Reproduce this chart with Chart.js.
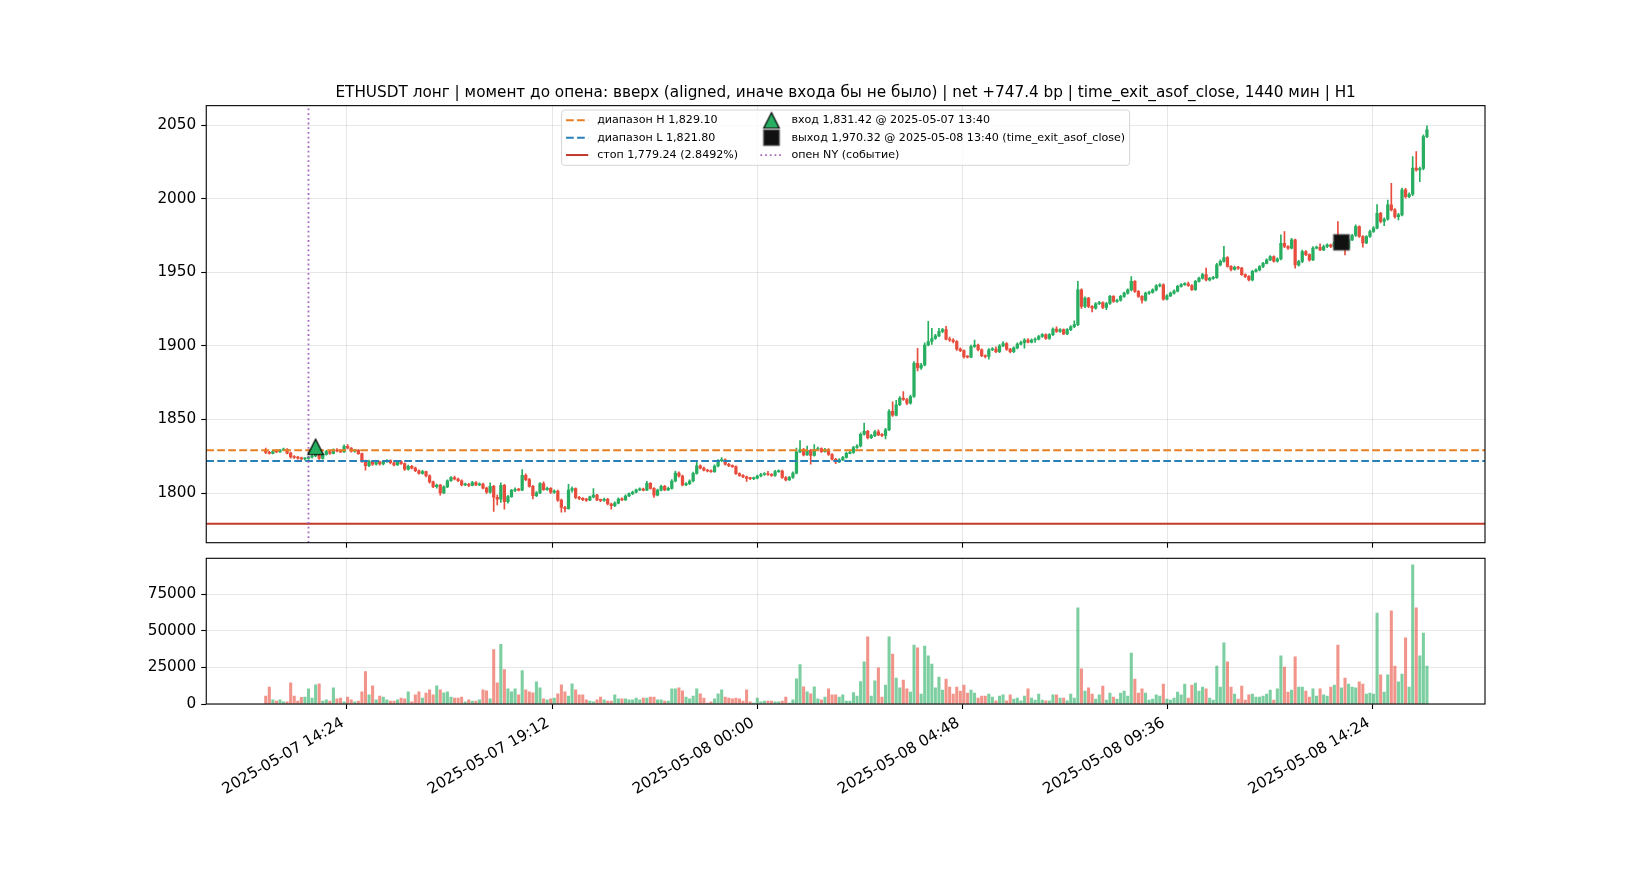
<!DOCTYPE html>
<html>
<head>
<meta charset="utf-8">
<script src="https://cdn.jsdelivr.net/npm/chart.js@4.4.1/dist/chart.umd.min.js"></script>
<style>
html, body { margin: 0; padding: 0; background: #fff; }
#wrap { position: relative; width: 1650px; height: 880px; }
#price_box { position: absolute; left: 0; top: 0; width: 1650px; height: 560px; }
#vol_box { position: absolute; left: 0; top: 530px; width: 1650px; height: 350px; }
</style>
</head>
<body>
<div id="wrap">
	<div id="price_box"><canvas id="price_chart"></canvas></div>
	<div id="vol_box"><canvas id="vol_chart"></canvas></div>
</div>
<script>
// 5 minute bars, time in minutes from 2025-05-07 00:00
var bar_start = 750; // 2025-05-07 12:30
var bar_step = 5;

var bar_open = [1829.0,1827.6,1827.0,1828.6,1828.0,1829.2,1829.8,1827.2,1824.6,1824.2,
1823.8,1823.2,1823.6,1824.4,1825.2,1826.8,1823.6,1826.2,1828.2,1827.0,
1829.4,1828.6,1828.0,1831.8,1830.6,1828.4,1829.2,1826.8,1821.6,1818.6,
1821.6,1819.6,1821.2,1819.8,1821.4,1822.0,1820.6,1819.2,1821.4,1820.0,
1816.2,1818.2,1817.0,1815.2,1813.4,1814.6,1811.8,1807.6,1804.4,1805.4,
1800.2,1804.2,1808.4,1810.6,1809.6,1808.4,1805.6,1806.0,1805.2,1807.2,
1805.6,1806.2,1803.4,1800.6,1804.6,1797.2,1795.8,1805.2,1794.2,1797.6,
1801.8,1802.6,1802.0,1812.0,1809.2,1804.6,1798.2,1800.2,1806.4,1802.4,
1803.2,1800.6,1801.4,1795.2,1790.2,1789.4,1802.0,1803.0,1797.0,1796.4,
1795.6,1795.2,1797.4,1798.6,1795.4,1795.0,1795.8,1792.6,1791.4,1793.2,
1796.0,1795.4,1798.0,1799.6,1800.6,1802.2,1802.8,1802.0,1806.6,1803.2,
1798.6,1802.0,1804.6,1802.2,1803.2,1808.2,1813.6,1811.6,1805.6,1806.4,
1808.2,1813.4,1818.6,1817.0,1815.6,1815.0,1814.6,1818.4,1822.0,1822.6,
1819.6,1818.6,1818.0,1813.2,1812.0,1811.0,1810.0,1809.8,1810.2,1811.6,
1812.6,1813.2,1812.6,1812.0,1814.6,1815.0,1810.6,1809.0,1810.6,1813.6,
1828.0,1829.6,1826.0,1829.0,1825.6,1829.6,1830.2,1828.2,1829.6,1826.2,
1823.0,1821.2,1822.6,1824.2,1827.0,1827.6,1831.0,1832.0,1840.0,1842.0,
1837.6,1839.0,1841.6,1839.6,1839.2,1843.0,1855.6,1853.0,1860.0,1864.6,
1863.6,1861.0,1865.6,1888.2,1885.0,1887.0,1900.6,1903.0,1905.0,1906.8,
1909.8,1911.0,1904.6,1904.0,1903.0,1897.8,1896.8,1892.6,1892.4,1899.6,
1900.6,1897.4,1893.4,1892.8,1897.4,1897.8,1896.0,1900.0,1901.6,1897.8,
1896.0,1898.6,1901.2,1902.2,1904.0,1902.6,1904.0,1904.6,1906.4,1907.6,
1905.0,1907.6,1911.4,1909.8,1911.0,1908.2,1911.0,1913.0,1914.4,1938.0,
1926.8,1932.4,1926.8,1925.6,1928.6,1929.4,1926.2,1928.8,1933.6,1930.2,
1931.0,1933.6,1935.8,1938.0,1943.8,1937.0,1933.6,1931.0,1935.8,1936.4,
1938.0,1940.8,1941.5,1931.8,1934.0,1935.8,1937.2,1940.4,1941.6,1942.2,
1941.0,1938.2,1943.8,1946.0,1948.4,1944.8,1945.9,1946.4,1955.0,1957.4,
1960.0,1954.0,1952.0,1953.4,1952.8,1948.4,1947.2,1944.8,1950.6,1951.6,
1953.9,1956.1,1958.4,1960.7,1957.5,1959.0,1969.7,1967.5,1966.4,1972.0,
1955.0,1957.3,1964.1,1962.0,1958.4,1966.4,1967.0,1965.2,1967.5,1968.6,
1967.5,1970.0,1968.0,1970.3,1966.5,1972.0,1975.0,1981.0,1974.3,1970.0,
1974.3,1977.7,1980.0,1990.1,1984.5,1986.0,1995.8,1992.4,1987.8,1989.0,
2006.0,2001.4,2003.0,2020.7,2019.6,2020.5,2042.2];

var bar_high = [1830.6,1828.4,1829.2,1829.4,1829.8,1830.6,1830.2,1827.8,1825.4,1825.0,
1824.4,1824.2,1825.0,1826.0,1827.6,1829.0,1826.8,1829.0,1828.8,1830.0,
1830.2,1829.6,1832.8,1833.0,1831.0,1829.8,1829.6,1827.2,1822.4,1822.4,
1822.2,1822.0,1821.8,1822.2,1822.8,1822.6,1821.2,1822.2,1822.0,1820.6,
1819.0,1818.8,1817.6,1815.8,1815.4,1815.0,1812.4,1808.2,1806.2,1806.0,
1805.0,1809.0,1811.2,1811.6,1810.2,1809.0,1806.8,1806.6,1808.0,1807.8,
1807.0,1806.8,1804.0,1807.0,1805.2,1798.6,1807.0,1806.0,1798.4,1802.6,
1803.6,1803.2,1816.0,1813.0,1810.0,1805.2,1801.0,1807.2,1807.6,1804.0,
1803.8,1802.2,1802.0,1796.0,1791.0,1806.0,1804.2,1803.6,1797.8,1797.0,
1796.4,1798.0,1803.0,1799.2,1796.0,1796.6,1796.4,1793.2,1794.0,1796.8,
1796.8,1798.8,1800.2,1801.4,1802.8,1803.6,1803.4,1808.0,1807.2,1803.8,
1802.8,1805.4,1805.2,1804.0,1809.2,1815.0,1814.4,1812.2,1807.2,1809.0,
1814.2,1821.0,1819.2,1817.6,1816.2,1815.8,1819.2,1822.8,1824.2,1823.2,
1820.2,1819.2,1818.6,1813.8,1812.6,1811.6,1810.6,1810.8,1812.2,1813.4,
1814.0,1814.8,1813.2,1815.4,1815.8,1815.6,1811.2,1811.4,1814.4,1830.6,
1835.6,1830.4,1832.0,1829.8,1833.0,1831.2,1830.8,1830.4,1830.2,1826.8,
1823.6,1823.4,1825.0,1827.8,1828.4,1831.8,1833.0,1841.0,1847.6,1842.6,
1840.0,1842.6,1843.0,1840.4,1844.0,1856.8,1862.0,1863.0,1865.6,1869.0,
1864.4,1866.6,1889.4,1898.4,1888.2,1902.0,1916.6,1912.0,1907.8,1912.0,
1912.0,1913.2,1906.0,1905.0,1903.6,1898.6,1897.4,1893.4,1900.6,1904.0,
1901.2,1898.0,1894.0,1898.2,1898.8,1899.4,1900.8,1903.0,1902.2,1898.4,
1899.4,1902.0,1903.2,1905.0,1905.0,1904.8,1905.4,1907.2,1908.4,1908.2,
1908.4,1912.2,1913.0,1911.8,1911.6,1911.8,1913.8,1917.0,1943.8,1938.8,
1933.4,1933.0,1927.4,1929.4,1930.2,1930.0,1929.6,1934.4,1934.2,1931.8,
1934.4,1936.6,1938.8,1947.0,1944.4,1937.6,1934.2,1936.6,1937.2,1938.8,
1941.6,1942.4,1942.2,1934.8,1936.6,1938.0,1941.2,1942.4,1943.0,1943.4,
1941.6,1944.6,1946.8,1949.2,1952.8,1946.6,1947.2,1956.0,1958.4,1967.6,
1960.6,1954.6,1954.2,1954.0,1953.4,1949.0,1947.8,1951.4,1952.4,1954.6,
1956.8,1959.2,1961.4,1961.2,1959.8,1975.4,1977.7,1968.2,1973.0,1972.6,
1958.2,1965.0,1964.8,1962.6,1967.4,1967.8,1969.4,1968.4,1969.4,1969.2,
1970.8,1984.5,1971.0,1970.8,1972.8,1975.8,1982.2,1981.6,1975.0,1975.0,
1978.6,1981.0,1996.0,1990.8,1987.0,1999.0,2010.5,1993.2,1990.0,2007.2,
2007.0,2004.0,2028.6,2032.0,2021.4,2043.4,2049.4];

var bar_low = [1826.8,1826.4,1826.6,1827.4,1827.6,1828.8,1826.6,1823.8,1823.6,1823.0,
1822.6,1822.4,1822.8,1823.8,1824.6,1822.8,1823.0,1825.8,1826.2,1826.6,
1828.0,1827.4,1827.6,1830.0,1827.8,1827.8,1826.2,1820.8,1815.6,1818.0,
1818.8,1819.0,1819.0,1819.2,1820.8,1819.8,1818.4,1818.8,1819.4,1815.4,
1815.6,1816.4,1814.6,1812.8,1812.8,1811.0,1806.8,1803.6,1803.4,1798.6,
1799.6,1803.6,1808.0,1809.0,1807.8,1804.8,1805.0,1804.4,1804.8,1805.0,
1805.0,1802.8,1799.8,1800.0,1787.6,1792.0,1793.6,1789.0,1793.2,1797.0,
1801.0,1801.4,1801.6,1808.4,1804.0,1796.0,1797.6,1799.6,1801.8,1801.8,
1799.8,1799.8,1794.4,1787.0,1787.2,1789.0,1800.6,1796.2,1795.6,1794.8,
1794.4,1794.8,1796.8,1794.8,1794.2,1794.4,1792.0,1789.0,1790.8,1792.6,
1794.8,1795.0,1797.6,1799.0,1800.2,1801.6,1801.4,1801.6,1802.6,1797.0,
1798.0,1801.4,1801.6,1801.6,1802.6,1807.6,1810.8,1804.8,1805.0,1805.8,
1807.6,1812.8,1816.4,1815.0,1814.4,1814.0,1814.0,1817.8,1821.4,1819.0,
1818.0,1817.4,1812.6,1811.4,1810.4,1808.0,1809.2,1809.2,1809.6,1811.0,
1812.0,1812.0,1811.4,1811.4,1814.0,1810.0,1808.2,1808.6,1810.0,1813.0,
1827.4,1825.2,1825.6,1819.6,1825.0,1829.0,1827.6,1827.8,1825.6,1822.4,
1820.0,1820.6,1822.0,1823.8,1826.6,1827.0,1830.4,1831.4,1839.4,1836.8,
1837.0,1838.4,1839.0,1838.4,1836.8,1842.4,1852.0,1852.4,1859.4,1863.0,
1860.0,1860.4,1865.0,1883.0,1884.0,1886.4,1900.0,1901.0,1904.4,1906.2,
1909.0,1904.0,1903.0,1902.0,1897.0,1896.0,1891.6,1891.8,1892.0,1899.0,
1896.6,1892.6,1891.8,1891.0,1896.8,1895.4,1895.4,1899.4,1897.0,1895.2,
1895.4,1898.0,1900.6,1898.4,1902.0,1902.0,1902.4,1904.0,1905.8,1904.4,
1904.4,1907.0,1909.2,1909.2,1907.6,1907.6,1910.4,1912.4,1913.8,1925.4,
1926.0,1926.0,1923.0,1925.0,1928.0,1925.2,1924.6,1928.2,1929.6,1929.6,
1930.4,1933.0,1935.2,1937.4,1936.4,1933.0,1929.0,1930.4,1935.0,1935.8,
1937.4,1940.0,1931.0,1931.2,1933.4,1935.2,1936.6,1939.8,1941.0,1940.4,
1937.6,1937.6,1943.2,1945.4,1944.2,1944.2,1945.2,1945.8,1954.4,1956.8,
1953.4,1951.0,1951.4,1952.0,1947.8,1946.4,1944.2,1944.2,1950.0,1951.0,
1953.2,1955.6,1957.8,1956.8,1956.8,1958.4,1966.8,1965.6,1965.8,1952.8,
1954.2,1956.6,1961.2,1957.6,1957.8,1965.8,1964.6,1964.6,1966.8,1966.8,
1966.8,1967.4,1967.2,1961.8,1965.8,1971.4,1974.4,1973.6,1967.0,1969.4,
1973.6,1977.0,1979.4,1983.6,1981.6,1985.4,1991.6,1986.8,1985.6,1988.2,
2000.4,2000.6,2002.0,2018.6,2011.6,2019.6,2041.4];

var bar_close = [1827.6,1827.0,1828.6,1828.0,1829.2,1829.8,1827.2,1824.6,1824.2,1823.8,
1823.2,1823.6,1824.4,1825.2,1826.8,1823.6,1826.2,1828.2,1827.0,1829.4,
1828.6,1828.0,1831.8,1830.6,1828.4,1829.2,1826.8,1821.6,1818.6,1821.6,
1819.6,1821.2,1819.8,1821.4,1822.0,1820.6,1819.2,1821.4,1820.0,1816.2,
1818.2,1817.0,1815.2,1813.4,1814.6,1811.8,1807.6,1804.4,1805.4,1800.2,
1804.2,1808.4,1810.6,1809.6,1808.4,1805.6,1806.0,1805.2,1807.2,1805.6,
1806.2,1803.4,1800.6,1804.6,1797.2,1795.8,1805.2,1794.2,1797.6,1801.8,
1802.6,1802.0,1812.0,1809.2,1804.6,1798.2,1800.2,1806.4,1802.4,1803.2,
1800.6,1801.4,1795.2,1790.2,1789.4,1802.0,1803.0,1797.0,1796.4,1795.6,
1795.2,1797.4,1798.6,1795.4,1795.0,1795.8,1792.6,1791.4,1793.2,1796.0,
1795.4,1798.0,1799.6,1800.6,1802.2,1802.8,1802.0,1806.6,1803.2,1798.6,
1802.0,1804.6,1802.2,1803.2,1808.2,1813.6,1811.6,1805.6,1806.4,1808.2,
1813.4,1818.6,1817.0,1815.6,1815.0,1814.6,1818.4,1822.0,1822.6,1819.6,
1818.6,1818.0,1813.2,1812.0,1811.0,1810.0,1809.8,1810.2,1811.6,1812.6,
1813.2,1812.6,1812.0,1814.6,1815.0,1810.6,1809.0,1810.6,1813.6,1828.0,
1829.6,1826.0,1829.0,1825.6,1829.6,1830.2,1828.2,1829.6,1826.2,1823.0,
1821.2,1822.6,1824.2,1827.0,1827.6,1831.0,1832.0,1840.0,1842.0,1837.6,
1839.0,1841.6,1839.6,1839.2,1843.0,1855.6,1853.0,1860.0,1864.6,1863.6,
1861.0,1865.6,1888.2,1885.0,1887.0,1900.6,1903.0,1905.0,1906.8,1909.8,
1911.0,1904.6,1904.0,1903.0,1897.8,1896.8,1892.6,1892.4,1899.6,1900.6,
1897.4,1893.4,1892.8,1897.4,1897.8,1896.0,1900.0,1901.6,1897.8,1896.0,
1898.6,1901.2,1902.2,1904.0,1902.6,1904.0,1904.6,1906.4,1907.6,1905.0,
1907.6,1911.4,1909.8,1911.0,1908.2,1911.0,1913.0,1914.4,1938.0,1926.8,
1932.4,1926.8,1925.6,1928.6,1929.4,1926.2,1928.8,1933.6,1930.2,1931.0,
1933.6,1935.8,1938.0,1943.8,1937.0,1933.6,1931.0,1935.8,1936.4,1938.0,
1940.8,1941.5,1931.8,1934.0,1935.8,1937.2,1940.4,1941.6,1942.2,1941.0,
1938.2,1943.8,1946.0,1948.4,1944.8,1945.9,1946.4,1955.0,1957.4,1960.0,
1954.0,1952.0,1953.4,1952.8,1948.4,1947.2,1944.8,1950.6,1951.6,1953.9,
1956.1,1958.4,1960.7,1957.5,1959.0,1969.7,1967.5,1966.4,1972.0,1955.0,
1957.3,1964.1,1962.0,1958.4,1966.4,1967.0,1965.2,1967.5,1968.6,1967.5,
1970.0,1968.0,1970.3,1966.5,1972.0,1975.0,1981.0,1974.3,1970.0,1974.3,
1977.7,1980.0,1990.1,1984.5,1986.0,1995.8,1992.4,1987.8,1989.0,2006.0,
2001.4,2003.0,2020.7,2019.6,2020.5,2042.2,2046.7];

var bar_volume = [5500,11500,2800,2000,2800,1400,1400,14500,5500,2000,
4600,4800,10400,4100,13100,13800,2000,2800,2000,11000,
3500,4100,1400,4800,2800,1400,2000,8300,22100,6200,
12400,2800,5500,4800,2800,2000,2000,2800,4100,3500,
8300,1400,6200,8300,4100,7400,9700,6200,12400,9700,
7600,8300,4800,4100,4100,4800,1400,2800,2000,2000,
2800,9700,9000,3500,37300,14500,40800,23500,10400,8300,
10400,6200,22800,9700,8300,7600,15200,11000,3500,2800,
3500,4100,6900,13100,8300,5500,13800,9700,6200,6200,
2800,2000,1400,2800,4800,2800,2000,2000,6200,3500,
3500,3500,2800,2800,4100,2800,4100,4100,4800,4800,
2800,2800,2000,2000,10400,10400,11000,9000,4800,3500,
5500,10400,6900,4100,700,1400,3500,6900,9700,4800,
4100,3500,4100,3500,2000,9700,1400,700,4100,1400,
2000,2000,2000,1400,1400,2000,4800,700,2800,17300,
27000,11800,8300,6900,11800,3500,2800,4800,10400,6200,
6200,4800,6200,2000,2000,7800,5500,15300,28800,45900,
5500,15800,24700,4800,13000,45900,34200,17800,11000,16400,
10300,8200,40400,38400,6800,39700,32900,27400,11000,18500,
9600,17100,11600,6800,11600,8900,13000,7500,9600,7500,
4100,5500,5500,6800,4800,2100,5500,6200,2100,6200,
3400,4100,2100,5500,10300,4100,2700,6800,2700,2100,
2100,6200,6200,4100,4100,2100,6800,4100,65800,24000,
8900,11000,6800,3400,6200,12300,2700,7500,4800,3400,
7500,8900,5500,34900,17100,7500,10300,7500,2700,3400,
6200,5500,13700,3400,2700,4100,8200,6200,13700,4100,
13000,14400,8900,11600,10300,4100,2700,26000,11600,41800,
28800,11600,6800,3400,12300,2700,6200,6800,4800,4800,
5500,6800,9600,2700,10300,32900,25300,8200,9600,32200,
11600,11600,8900,4800,10300,5500,10300,6200,5500,11600,
13000,40400,11000,17800,13700,11600,11000,15100,13700,6800,
7500,6800,62300,19900,8200,19900,63700,26000,15100,20500,
45200,11600,95200,65800,32900,48600,26000];

// levels and events
var range_high = 1829.10;
var range_low = 1821.80;
var stop_level = 1779.24;
var ny_open_time = 810;               // 2025-05-07 13:30
var entry_time = 820, entry_price = 1831.42;   // 2025-05-07 13:40
var exit_time = 2260, exit_price = 1970.32;    // 2025-05-08 13:40

var x_tick_values = [864, 1152, 1440, 1728, 2016, 2304];
var x_tick_labels = ['2025-05-07 14:24', '2025-05-07 19:12', '2025-05-08 00:00', '2025-05-08 04:48', '2025-05-08 09:36', '2025-05-08 14:24'];
var price_ticks = [1800, 1850, 1900, 1950, 2000, 2050];
var volume_ticks = [0, 25000, 50000, 75000];

var title_text = 'ETHUSDT лонг | момент до опена: вверх (aligned, иначе входа бы не было) | net +747.4 bp | time_exit_asof_close, 1440 мин | H1';
var legend_labels = ['диапазон H 1,829.10', 'диапазон L 1,821.80', 'стоп 1,779.24 (2.8492%)',
	'вход 1,831.42 @ 2025-05-07 13:40', 'выход 1,970.32 @ 2025-05-08 13:40 (time_exit_asof_close)', 'опен NY (событие)'];

// axis limits
var x_min = 666.5, x_max = 2461.5;
var price_min = 1766.3, price_max = 2063.2;
var volume_max = 99700;

var up_colour = '#27ae60', down_colour = '#e74c3c';
var up_vol_colour = 'rgba(39, 174, 96, 0.6)', down_vol_colour = 'rgba(231, 76, 60, 0.6)';
var high_colour = '#e67e22', low_colour = '#2980b9', stop_colour = '#c0392b', ny_colour = 'rgba(155, 89, 182, 0.9)';
var grid_colour = 'rgba(176, 176, 176, 0.3)';
var font_family = "'DejaVu Sans', sans-serif";
var label_size = 15.28;

Chart.defaults.font.family = font_family;
Chart.defaults.font.size = label_size;
Chart.defaults.color = '#000';

var bar_time = bar_close.map(function (c, i) { return bar_start + i * bar_step; });
var is_up = bar_close.map(function (c, i) { return c >= bar_open[i]; });

function makeMarker(kind)
{
	var c = document.createElement('canvas');
	c.width = 20; c.height = 20;
	var g = c.getContext('2d');
	g.beginPath();
	if (kind == 'triangle')
	{
		g.moveTo(10, 2.25); g.lineTo(17.75, 17.75); g.lineTo(2.25, 17.75); g.closePath();
		g.fillStyle = up_colour; g.strokeStyle = '#000';
	}
	else
	{
		g.rect(2.25, 2.25, 15.5, 15.5);
		g.fillStyle = '#111'; g.strokeStyle = '#3a3a3a';
	}
	g.fill();
	g.lineWidth = 1.2;
	g.stroke();
	return c;
}
var entry_marker = makeMarker('triangle');
var exit_marker = makeMarker('square');

// black box round the plot, like matplotlib spines
var frame_plugin = {
	id: 'frame',
	afterDraw: function (chart)
	{
		var a = chart.chartArea, ctx = chart.ctx;
		ctx.save();
		ctx.strokeStyle = '#000';
		ctx.lineWidth = 1.1;
		ctx.strokeRect(a.left, a.top, a.right - a.left, a.bottom - a.top);
		ctx.restore();
	}
};

// two-column legend box inside the price plot
var legend_plugin = {
	id: 'box_legend',
	afterDraw: function (chart)
	{
		var ctx = chart.ctx, a = chart.chartArea;
		var fs = 11.1;
		ctx.save();
		ctx.font = fs + 'px ' + font_family;
		var w1 = 0, w2 = 0;
		legend_labels.forEach(function (t, i)
		{
			var w = ctx.measureText(t).width;
			if (i < 3) w1 = Math.max(w1, w); else w2 = Math.max(w2, w);
		});
		var pad = 0.4 * fs, hl = 2 * fs, tp = 0.8 * fs, cs = 2 * fs;
		var boxW = 2 * pad + hl + tp + w1 + cs + hl + tp + w2;
		var boxH = 55.3;
		var bx = (a.left + a.right) / 2 - boxW / 2;
		var by = a.top + 4.4;

		// frame
		var r = 3;
		ctx.beginPath();
		ctx.moveTo(bx + r, by);
		ctx.lineTo(bx + boxW - r, by); ctx.arcTo(bx + boxW, by, bx + boxW, by + r, r);
		ctx.lineTo(bx + boxW, by + boxH - r); ctx.arcTo(bx + boxW, by + boxH, bx + boxW - r, by + boxH, r);
		ctx.lineTo(bx + r, by + boxH); ctx.arcTo(bx, by + boxH, bx, by + boxH - r, r);
		ctx.lineTo(bx, by + r); ctx.arcTo(bx, by, bx + r, by, r);
		ctx.closePath();
		ctx.fillStyle = 'rgba(255, 255, 255, 0.8)';
		ctx.fill();
		ctx.strokeStyle = 'rgba(204, 204, 204, 0.8)';
		ctx.lineWidth = 1;
		ctx.stroke();

		var rows = [by + 10.3, by + 27.65, by + 45.0];
		var c1 = bx + pad;
		var c2 = c1 + hl + tp + w1 + cs;

		function handleLine(x0, y, colour, dash, width)
		{
			ctx.beginPath();
			ctx.setLineDash(dash);
			ctx.strokeStyle = colour;
			ctx.lineWidth = width;
			ctx.moveTo(x0, y); ctx.lineTo(x0 + hl, y);
			ctx.stroke();
			ctx.setLineDash([]);
		}
		handleLine(c1, rows[0], high_colour, [7.7, 3.3], 2);
		handleLine(c1, rows[1], low_colour, [7.7, 3.3], 2);
		handleLine(c1, rows[2], stop_colour, [], 2);
		ctx.drawImage(entry_marker, c2 + hl / 2 - 10, rows[0] - 10);
		ctx.drawImage(exit_marker, c2 + hl / 2 - 10, rows[1] - 10);
		handleLine(c2, rows[2], ny_colour, [1.8, 2.9], 1.8);

		ctx.fillStyle = '#000';
		ctx.textBaseline = 'middle';
		ctx.textAlign = 'left';
		for (var k = 0; k < 3; k++)
		{
			ctx.fillText(legend_labels[k], c1 + hl + tp, rows[k]);
			ctx.fillText(legend_labels[k + 3], c2 + hl + tp, rows[k]);
		}
		ctx.restore();
	}
};

function levelLine(level, colour, dash, order)
{
	return {
		type: 'line',
		data: [{x: x_min, y: level}, {x: x_max, y: level}],
		borderColor: colour,
		borderWidth: 2,
		borderDash: dash,
		pointRadius: 0,
		order: order
	};
}

var priceChart = new Chart(document.getElementById('price_chart').getContext('2d'), {
	type: 'bar',
	plugins: [frame_plugin, legend_plugin],
	data: {
		datasets: [
			{
				label: 'wicks',
				data: bar_time.map(function (t, i) { return {x: t, y: [bar_low[i], bar_high[i]]}; }),
				backgroundColor: is_up.map(function (u) { return u ? up_colour : down_colour; }),
				barThickness: 1,
				grouped: false,
				order: 6
			},
			{
				label: 'bodies',
				data: bar_time.map(function (t, i) { return {x: t, y: [bar_open[i], bar_close[i]]}; }),
				backgroundColor: is_up.map(function (u) { return u ? up_colour : down_colour; }),
				barThickness: 2.6,
				minBarLength: 1,
				grouped: false,
				order: 5
			},
			levelLine(range_high, high_colour, [7.7, 3.3], 4),
			levelLine(range_low, low_colour, [7.7, 3.3], 4),
			levelLine(stop_level, stop_colour, [], 4),
			{
				type: 'line',
				data: [{x: ny_open_time, y: price_min}, {x: ny_open_time, y: price_max}],
				borderColor: ny_colour,
				borderWidth: 1.8,
				borderDash: [1.8, 2.9],
				pointRadius: 0,
				order: 3
			},
			{
				type: 'line',
				showLine: false,
				data: [{x: entry_time, y: entry_price}],
				pointStyle: entry_marker,
				pointRadius: 8,
				order: 1
			},
			{
				type: 'line',
				showLine: false,
				data: [{x: exit_time, y: exit_price}],
				pointStyle: exit_marker,
				pointRadius: 8,
				order: 1
			}
		]
	},
	options: {
		responsive: true,
		maintainAspectRatio: false,
		animation: false,
		events: [],
		layout: { padding: { left: 146.25, right: 165, top: 0, bottom: 12.3 } },
		plugins: {
			legend: { display: false },
			tooltip: { enabled: false },
			title: {
				display: true,
				text: title_text,
				color: '#000',
				fullSize: false,
				font: { family: font_family, size: label_size, weight: 'normal' },
				padding: { top: 83.5, bottom: 3.8 }
			}
		},
		scales: {
			x: {
				type: 'linear',
				min: x_min, max: x_max,
				offset: false,
				grid: { offset: false, color: grid_colour, tickColor: '#000', tickLength: 5, tickWidth: 1.1 },
				border: { display: false },
				ticks: { display: false },
				afterBuildTicks: function (axis) { axis.ticks = x_tick_values.map(function (v) { return {value: v}; }); },
				afterFit: function (axis) { axis.height = 5; }
			},
			y: {
				min: price_min, max: price_max,
				grid: { color: grid_colour, tickColor: '#000', tickLength: 5, tickWidth: 1.1 },
				border: { display: false },
				ticks: { padding: 5, callback: function (v) { return String(v); } },
				afterBuildTicks: function (axis) { axis.ticks = price_ticks.map(function (v) { return {value: v}; }); },
				afterFit: function (axis) { axis.width = 60; }
			}
		}
	}
});

var volChart = new Chart(document.getElementById('vol_chart').getContext('2d'), {
	type: 'bar',
	plugins: [frame_plugin],
	data: {
		datasets: [{
			label: 'volume',
			data: bar_time.map(function (t, i) { return {x: t, y: bar_volume[i]}; }),
			backgroundColor: is_up.map(function (u) { return u ? up_vol_colour : down_vol_colour; }),
			barThickness: 2.4,
			grouped: false
		}]
	},
	options: {
		responsive: true,
		maintainAspectRatio: false,
		animation: false,
		events: [],
		layout: { padding: { left: 146.25, right: 165, top: 28.3, bottom: 0 } },
		plugins: {
			legend: { display: false },
			tooltip: { enabled: false }
		},
		scales: {
			x: {
				type: 'linear',
				min: x_min, max: x_max,
				offset: false,
				grid: { offset: false, color: grid_colour, tickColor: '#000', tickLength: 5, tickWidth: 1.1 },
				border: { display: false },
				ticks: {
					autoSkip: false,
					minRotation: 30, maxRotation: 30,
					padding: 5,
					labelOffset: -4,
					callback: function (v, index) { return x_tick_labels[index]; }
				},
				afterBuildTicks: function (axis) { axis.ticks = x_tick_values.map(function (v) { return {value: v}; }); },
				afterFit: function (axis) { axis.height = 176; }
			},
			y: {
				min: 0, max: volume_max,
				grid: { color: grid_colour, tickColor: '#000', tickLength: 5, tickWidth: 1.1 },
				border: { display: false },
				ticks: { padding: 5, callback: function (v) { return String(v); } },
				afterBuildTicks: function (axis) { axis.ticks = volume_ticks.map(function (v) { return {value: v}; }); },
				afterFit: function (axis) { axis.width = 60; }
			}
		}
	}
});
</script>
</body>
</html>
